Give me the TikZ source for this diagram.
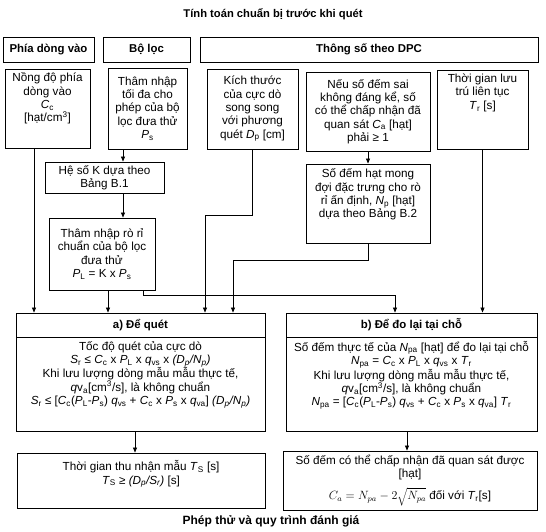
\documentclass[tikz,border=0pt]{standalone}
\usepackage{fontspec}
\setmainfont{Liberation Sans}
\usetikzlibrary{arrows.meta}

\newcommand{\iv}[2]{\textit{#1}\textsubscript{#2}}
\newcommand{\topcell}[3]{\parbox[c][#2][t]{#1}{\centering #3}}

\begin{document}
\begin{tikzpicture}[x=1pt, y=-1pt,
  box/.style={draw, line width=0.9pt, align=center, inner sep=1pt,
    font=\fontsize{11.7}{13.3}\selectfont},
  head/.style={box, font=\fontsize{11.4}{13.3}\selectfont\bfseries},
  arr/.style={-{Triangle[length=5pt,width=4pt]}, line width=0.7pt}]
  \useasboundingbox (0,0) rectangle (546,531);

  % Titel
  \node[font=\fontsize{11.2}{13}\selectfont\bfseries] (title) at (273,14) {Tính toán chuẩn bị trước khi quét};
  \node[font=\fontsize{12}{13}\selectfont\bfseries] (foot) at (271,521) {Phép thử và quy trình đánh giá};

  % Kopfzeile
  \node[head, minimum width=91pt, minimum height=25pt] (hin) at (48.5,49.5) {Phía dòng vào};
  \node[head, minimum width=87pt, minimum height=25pt] (hfil) at (146.5,49.5) {Bộ lọc};
  \node[head, minimum width=338pt, minimum height=25pt] (hdpc) at (369,49.5) {Thông số theo DPC};

  % Eingaben
  \node[box, inner sep=0pt] (conc) at (47.5,108.5)
    {\topcell{85pt}{79pt}{\vspace{4pt}Nồng độ phía\\dòng vào\\\iv{C}{c}\\{}[hạt/cm\textsuperscript{3}]}};
  \node[box, minimum width=79pt, minimum height=81pt] (pmax) at (147.5,108.5)
    {Thâm nhập\\tối đa cho\\phép của bộ\\lọc đưa thử\\\iv{P}{s}};
  \node[box, minimum width=91pt, minimum height=80pt] (dp) at (252.5,109)
    {Kích thước\\của cực dò\\song song\\với phương\\quét \iv{D}{p} [cm]};
  \node[box, minimum width=124pt, minimum height=79pt] (ca) at (368,111.5)
    {Nếu số đếm sai\\không đáng kể, số\\có thể chấp nhận đã\\quan sát \iv{C}{a} [hạt]\\phải ≥ 1};
  \node[box, inner sep=0pt] (tr) at (482.5,109.5)
    {\topcell{91pt}{79pt}{\vspace{4pt}Thời gian lưu\\trú liên tục\\\iv{T}{r} [s]}};

  % Zwischenschritte
  \node[box, minimum width=119pt, minimum height=31pt] (kfac) at (104.5,177.5)
    {Hệ số K dựa theo\\Bảng B.1};
  \node[box, inner sep=0pt] (np) at (368,203.5)
    {\topcell{124pt}{79pt}{\vspace{5pt}Số đếm hạt mong\\đợi đặc trưng cho rò\\rỉ ấn định, \iv{N}{p} [hạt]\\dựa theo Bảng B.2}};
  \node[box, minimum width=106pt, minimum height=72pt] (pl) at (102,254)
    {Thâm nhập rò rỉ\\chuẩn của bộ lọc\\đưa thử\\\iv{P}{L} = K x \iv{P}{s}};

  % a) Scannen
  \node[head, minimum width=249pt, minimum height=24pt] (scanhead) at (140.5,325) {a) Để quét};
  \node[box, inner sep=0pt] (scanbody) at (140.5,384)
    {\topcell{249pt}{94pt}{\vspace{4pt}Tốc độ quét của cực dò\\
      \iv{S}{r} ≤ \iv{C}{c} x \iv{P}{L} x \iv{q}{vs} x \textit{(\iv{D}{p}/\iv{N}{p})}\\
      Khi lưu lượng dòng mẫu mẫu thực tế,\\
      \textit{q}v\textsubscript{a}[cm\textsuperscript{3}/s], là không chuẩn\\
      \iv{S}{r} ≤ [\iv{C}{c}(\iv{P}{L}-\iv{P}{s}) \iv{q}{vs} + \iv{C}{c} x \iv{P}{s} x \iv{q}{va}] \textit{(\iv{D}{p}/\iv{N}{p})}}};

  % b) Vor-Ort-Messung
  \node[head, minimum width=251pt, minimum height=24pt] (rehead) at (411.5,325) {b) Để đo lại tại chỗ};
  \node[box, inner sep=0pt] (rebody) at (411.5,384)
    {\topcell{251pt}{94pt}{\vspace{4pt}Số đếm thực tế của \iv{N}{pa} [hạt] để đo lại tại chỗ\\
      \iv{N}{pa} = \iv{C}{c} x \iv{P}{L} x \iv{q}{vs} x \iv{T}{r}\\
      Khi lưu lượng dòng mẫu mẫu thực tế,\\
      \textit{q}v\textsubscript{a}[cm\textsuperscript{3}/s], là không chuẩn\\
      \iv{N}{pa} = [\iv{C}{c}(\iv{P}{L}-\iv{P}{s}) \iv{q}{vs} + \iv{C}{c} x \iv{P}{s} x \iv{q}{va}] \iv{T}{r}}};

  % Ergebnisse
  \node[box, minimum width=248pt, minimum height=55pt] (ts) at (141,480.5)
    {Thời gian thu nhận mẫu \iv{T}{S} [s]\\\iv{T}{S} ≥ \textit{(\iv{D}{p}/\iv{S}{r})} [s]\\[3pt]};
  \node[box, minimum width=254pt, minimum height=59pt] (acc) at (410,480.5)
    {Số đếm có thể chấp nhận đã quan sát được\\{}[hạt]\\[6pt]$C_a = N_{pa} - 2\sqrt{N_{pa}}$ đối với \iv{T}{r}[s]};

  % Spalten der Pfeile
  \coordinate (colin) at (34,0);
  \coordinate (colfil) at (123,0);
  \coordinate (colpl) at (108,0);
  \coordinate (colplr) at (143,0);
  \coordinate (coldp) at (205,0);
  \coordinate (colnp) at (233,0);
  \coordinate (colre) at (395,0);
  \coordinate (colts) at (135,0);
  \coordinate (colacc) at (407,0);

  % Verbindungen
  \draw[arr] (conc.south -| colin) -- (scanhead.north -| colin);
  \draw[arr] (pmax.south -| colfil) -- (kfac.north -| colfil);
  \draw[arr] (kfac.south -| colfil) -- (pl.north -| colfil);
  \draw[arr] (pl.south -| colpl) -- (scanhead.north -| colpl);
  \draw[arr] (pl.south -| colplr) -- ++(0,5) -| (rehead.north -| colre);
  \draw[arr] (dp.south) -- ++(0,66) -| (scanhead.north -| coldp);
  \draw[arr] (np.south) -- ++(0,17) -| (scanhead.north -| colnp);
  \draw[arr] (ca.south) -- (np.north);
  \draw[arr] (tr.south) -- (rehead.north -| tr.south);
  \draw[arr] (scanbody.south -| colts) -- (ts.north -| colts);
  \draw[arr] (rebody.south -| colacc) -- (acc.north -| colacc);
\end{tikzpicture}
\end{document}
